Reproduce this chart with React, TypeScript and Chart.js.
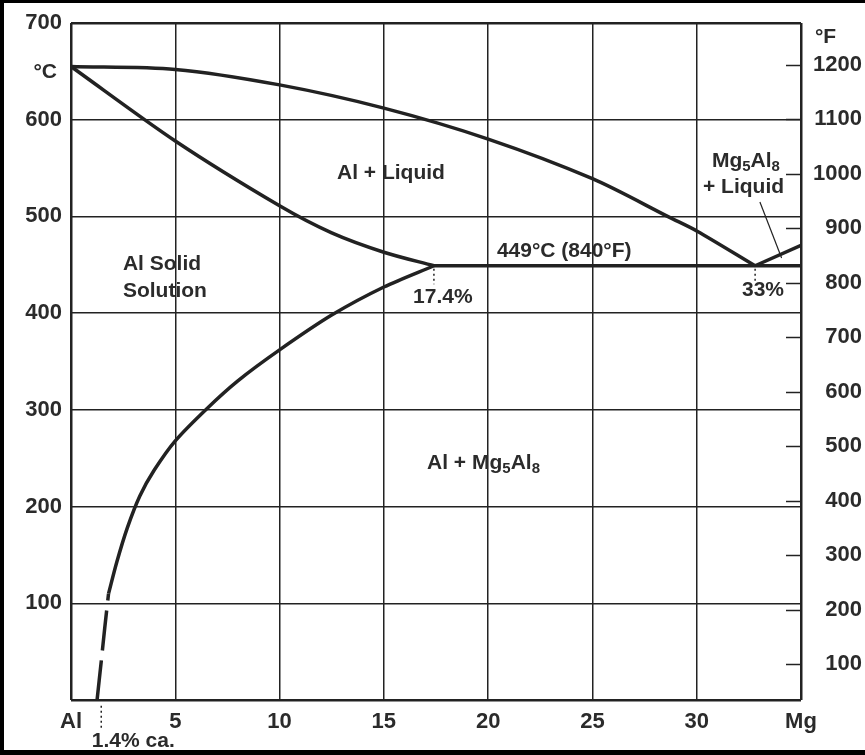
import React, { useEffect, useRef } from 'react';
import { Chart, registerables } from 'chart.js';

Chart.register(...registerables);

// ---- axes (x: % Mg, left y: °C, right y: °F) ----
const xTickValues = [0, 5, 10, 15, 20, 25, 30, 35];
const xTickLabels = ['Al', '5', '10', '15', '20', '25', '30', 'Mg'];
const celsiusGrid = [0, 100, 200, 300, 400, 500, 600, 700];
const fahrenheitTicks = [100, 200, 300, 400, 500, 600, 700, 800, 900, 1000, 1100, 1200];

// ---- phase boundaries ----
const liquidusAl = [
  { x: 0, y: 655 }, { x: 5, y: 652 }, { x: 10, y: 636 }, { x: 15, y: 612 },
  { x: 20, y: 580 }, { x: 25, y: 539 }, { x: 28.7, y: 499 },
  { x: 30, y: 485 }, { x: 32.8, y: 449 },
];
const solidusAl = [
  { x: 0, y: 655 }, { x: 5, y: 578 }, { x: 10, y: 511 }, { x: 12.5, y: 483 },
  { x: 15, y: 463 }, { x: 17.4, y: 449 },
];
const solvusSolid = [
  { x: 1.8, y: 110 }, { x: 2.2, y: 143 }, { x: 2.7, y: 178 }, { x: 3.3, y: 211 },
  { x: 4, y: 238 }, { x: 5, y: 268 }, { x: 6.5, y: 301 }, { x: 8, y: 330 },
  { x: 10, y: 362 }, { x: 12.5, y: 398 }, { x: 15, y: 427 }, { x: 17.4, y: 449 },
];
const solvusDashed = [
  { x: 1.25, y: 0 }, { x: 1.45, y: 40 }, { x: 1.62, y: 75 }, { x: 1.8, y: 110 },
];
const eutecticLine = [{ x: 17.4, y: 449 }, { x: 35, y: 449 }];
const liquidusMg = [{ x: 32.8, y: 449 }, { x: 35, y: 470 }];
const leaderLine = [{ x: 33.03, y: 515 }, { x: 34.07, y: 457 }];
const dropAt174 = [{ x: 17.4, y: 446 }, { x: 17.4, y: 430 }];
const dropAt33 = [{ x: 32.8, y: 446 }, { x: 32.8, y: 432 }];
const dropAt14 = [{ x: 1.45, y: -6 }, { x: 1.45, y: -31 }];

// ---- text labels (data coordinates; "_" marks a one-character subscript) ----
const labelTexts = ['Al + Liquid', 'Al Solid', 'Solution', '449°C (840°F)', '17.4%', '33%', 'Mg_5Al_8', '+ Liquid', 'Al + Mg_5Al_8', '1.4% ca.', '°C', '°F'];
const labelX = [15.34, 2.49, 2.49, 20.42, 16.4, 32.17, 30.73, 30.3, 17.07, 1.0, -0.67, 35.67];
const labelY = [545, 451, 423, 464, 416, 424, 557, 530.5, 245, -42.4, 649, 685.6];
const labelAlign = ['center', 'left', 'left', 'left', 'left', 'left', 'left', 'left', 'left', 'left', 'right', 'left'];

const INK = '#222222';
const TEXT = '#2b2b2b';
const FONT_FAMILY = '"Liberation Sans", Arial, sans-serif';

function drawRichText(ctx: CanvasRenderingContext2D, text: string, x: number, y: number, align: string) {
  const size = 21;
  const subSize = 15;
  const parts: { t: string; sub: boolean }[] = [];
  let buf = '';
  for (let i = 0; i < text.length; i++) {
    if (text[i] === '_' && i + 1 < text.length) {
      if (buf) parts.push({ t: buf, sub: false });
      buf = '';
      parts.push({ t: text[i + 1], sub: true });
      i++;
    } else buf += text[i];
  }
  if (buf) parts.push({ t: buf, sub: false });
  let total = 0;
  for (const p of parts) {
    ctx.font = `bold ${p.sub ? subSize : size}px ${FONT_FAMILY}`;
    total += ctx.measureText(p.t).width;
  }
  let cx = align === 'center' ? x - total / 2 : align === 'right' ? x - total : x;
  ctx.textAlign = 'left';
  ctx.textBaseline = 'middle';
  for (const p of parts) {
    ctx.font = `bold ${p.sub ? subSize : size}px ${FONT_FAMILY}`;
    ctx.fillText(p.t, cx, p.sub ? y + 6 : y);
    cx += ctx.measureText(p.t).width;
  }
}

const overlayPlugin = {
  id: 'phaseOverlay',
  afterDraw(chart: any) {
    const { ctx, chartArea, scales } = chart;
    const xs = scales.x;
    const ys = scales.y;
    const yf = scales.y1;
    ctx.save();
    // right-hand °F tick marks, inside the frame
    ctx.strokeStyle = INK;
    ctx.lineWidth = 1.5;
    for (const v of fahrenheitTicks) {
      const py = Math.round(yf.getPixelForValue(v)) + 0.5;
      ctx.beginPath();
      ctx.moveTo(chartArea.right - 15, py);
      ctx.lineTo(chartArea.right, py);
      ctx.stroke();
    }
    ctx.fillStyle = TEXT;
    for (let i = 0; i < labelTexts.length; i++) {
      drawRichText(ctx, labelTexts[i], xs.getPixelForValue(labelX[i]), ys.getPixelForValue(labelY[i]), labelAlign[i]);
    }
    ctx.restore();
  },
};

function line(data: { x: number; y: number }[], extra: any = {}) {
  return {
    data,
    showLine: true,
    pointRadius: 0,
    pointHoverRadius: 0,
    borderColor: INK,
    backgroundColor: INK,
    borderWidth: 3.5,
    tension: 0.3,
    fill: false,
    ...extra,
  };
}

export default function App() {
  const canvasRef = useRef<HTMLCanvasElement | null>(null);

  useEffect(() => {
    document.body.style.margin = '0';
    const canvas = canvasRef.current;
    if (!canvas) return;
    const edge = (v: number, lo: number, hi: number) => (v === lo || v === hi ? 2.5 : 1.5);
    const chart = new Chart(canvas, {
      type: 'scatter',
      data: {
        datasets: [
          line(liquidusAl),
          line(solidusAl),
          line(solvusSolid),
          line(solvusDashed, { borderDash: [40, 10], tension: 0.2 }),
          line(eutecticLine, { tension: 0 }),
          line(liquidusMg, { tension: 0 }),
          line(leaderLine, { borderWidth: 1.2, tension: 0 }),
          line(dropAt174, { borderWidth: 1.5, borderDash: [2, 3], tension: 0 }),
          line(dropAt33, { borderWidth: 1.5, borderDash: [2, 3], tension: 0 }),
          line(dropAt14, { borderWidth: 1.5, borderDash: [2, 3], tension: 0, clip: false }),
        ] as any,
      },
      options: {
        animation: false,
        responsive: false,
        events: [],
        layout: { padding: { top: 23, right: 3, left: 0, bottom: 0 } },
        plugins: { legend: { display: false }, tooltip: { enabled: false }, title: { display: false } },
        scales: {
          x: {
            type: 'linear',
            min: 0,
            max: 35,
            afterBuildTicks: (s: any) => { s.ticks = xTickValues.map((v) => ({ value: v })); },
            afterFit: (s: any) => { s.height = 55; },
            grid: { color: INK, lineWidth: (c: any) => edge(c.tick?.value, 0, 35), drawTicks: false },
            border: { display: false },
            ticks: {
              autoSkip: false,
              maxRotation: 0,
              padding: 9,
              color: TEXT,
              font: { family: FONT_FAMILY, size: 22, weight: 'bold' },
              callback: (v: any) => xTickLabels[xTickValues.indexOf(Number(v))] ?? '',
            },
          },
          y: {
            type: 'linear',
            position: 'left',
            min: 0,
            max: 700,
            afterBuildTicks: (s: any) => { s.ticks = celsiusGrid.map((v) => ({ value: v })); },
            afterFit: (s: any) => { s.width = 71; },
            grid: { color: INK, lineWidth: (c: any) => edge(c.tick?.value, 0, 700), drawTicks: false },
            border: { display: false },
            ticks: {
              autoSkip: false,
              padding: 9,
              color: TEXT,
              font: { family: FONT_FAMILY, size: 22, weight: 'bold' },
              callback: (v: any) => (Number(v) === 0 ? '' : String(v)),
            },
          },
          y1: {
            type: 'linear',
            position: 'right',
            min: 34,
            max: 1277,
            afterBuildTicks: (s: any) => { s.ticks = fahrenheitTicks.map((v) => ({ value: v })); },
            afterFit: (s: any) => { s.width = 61; },
            grid: { display: false, drawTicks: false },
            border: { display: false },
            ticks: {
              autoSkip: false,
              crossAlign: 'far',
              padding: 8,
              color: TEXT,
              font: { family: FONT_FAMILY, size: 22, weight: 'bold' },
              callback: (v: any) => String(v),
            },
          },
        },
      } as any,
      plugins: [overlayPlugin],
    });
    return () => chart.destroy();
  }, []);

  return (
    <div style={{ position: 'relative', width: 865, height: 755, background: '#fff' }}>
      <canvas ref={canvasRef} width={865} height={755} style={{ display: 'block' }} />
      <div
        style={{
          position: 'absolute',
          inset: 0,
          boxSizing: 'border-box',
          borderTop: '3px solid #000',
          borderLeft: '4px solid #000',
          borderBottom: '5px solid #000',
          pointerEvents: 'none',
        }}
      />
    </div>
  );
}
